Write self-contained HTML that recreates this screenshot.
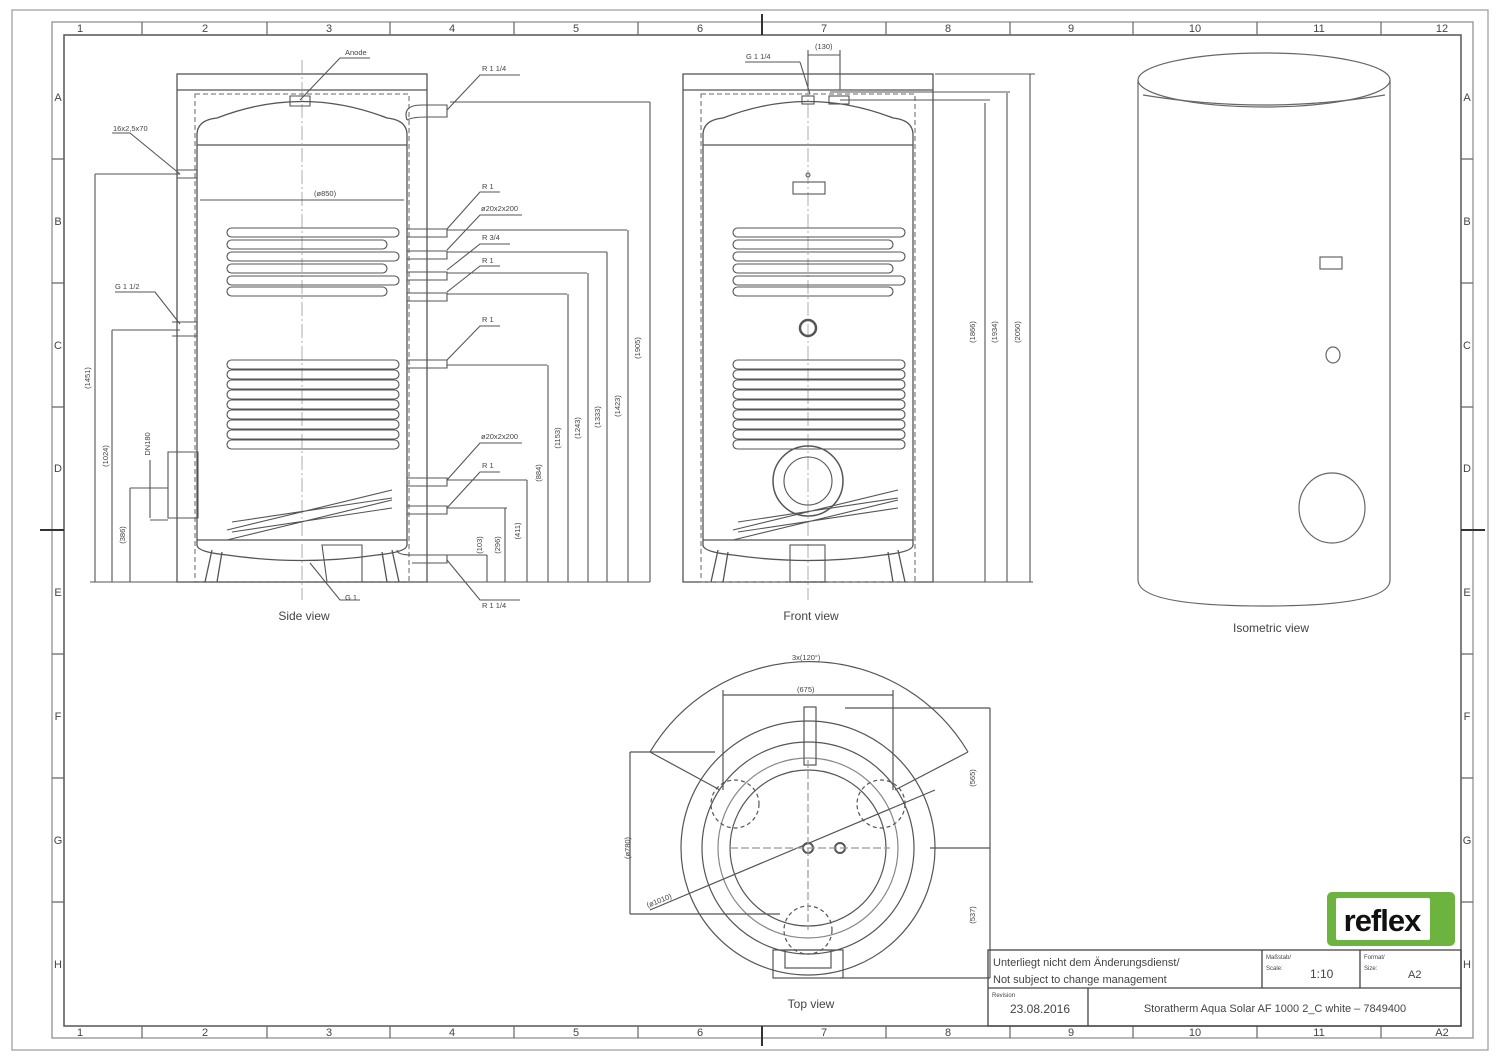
<!DOCTYPE html>
<html><head><meta charset="utf-8"><style>
html,body{margin:0;padding:0;background:#fff}
svg{display:block}
text{font-family:"Liberation Sans",sans-serif;fill:#444}
</style></head><body>
<svg width="1500" height="1061" viewBox="0 0 1500 1061" xmlns="http://www.w3.org/2000/svg">
<g fill="none" stroke="#666" stroke-width="1.2">
<rect x="12" y="10" width="1476" height="1040" stroke="#999"/>
<rect x="64" y="35" width="1397" height="991" stroke="#555" stroke-width="1.5"/>
<rect x="52" y="22" width="1421" height="1016" stroke="#888"/>
<path d="M142 22v13M267 22v13M390 22v13M514 22v13M638 22v13M762 22v13M886 22v13M1010 22v13M1133 22v13M1257 22v13M1381 22v13
M142 1026v12M267 1026v12M390 1026v12M514 1026v12M638 1026v12M762 1026v12M886 1026v12M1010 1026v12M1133 1026v12M1257 1026v12M1381 1026v12
M52 159h12M52 283h12M52 407h12M52 654h12M52 778h12M52 902h12M1461 159h12M1461 283h12M1461 407h12M1461 654h12M1461 778h12M1461 902h12"/>
<path d="M40 530h24M1461 530h24M762 14v21M762 1026v20" stroke="#333" stroke-width="2"/>
</g>
<g font-size="11" text-anchor="middle" fill="#666">
<text x="80" y="32">1</text><text x="205" y="32">2</text><text x="329" y="32">3</text><text x="452" y="32">4</text><text x="576" y="32">5</text><text x="700" y="32">6</text><text x="824" y="32">7</text><text x="948" y="32">8</text><text x="1071" y="32">9</text><text x="1195" y="32">10</text><text x="1319" y="32">11</text><text x="1442" y="32">12</text>
<text x="80" y="1036">1</text><text x="205" y="1036">2</text><text x="329" y="1036">3</text><text x="452" y="1036">4</text><text x="576" y="1036">5</text><text x="700" y="1036">6</text><text x="824" y="1036">7</text><text x="948" y="1036">8</text><text x="1071" y="1036">9</text><text x="1195" y="1036">10</text><text x="1319" y="1036">11</text><text x="1442" y="1036">A2</text>
<text x="58" y="101">A</text><text x="58" y="225">B</text><text x="58" y="349">C</text><text x="58" y="472">D</text><text x="58" y="596">E</text><text x="58" y="720">F</text><text x="58" y="844">G</text><text x="58" y="968">H</text>
<text x="1467" y="101">A</text><text x="1467" y="225">B</text><text x="1467" y="349">C</text><text x="1467" y="472">D</text><text x="1467" y="596">E</text><text x="1467" y="720">F</text><text x="1467" y="844">G</text><text x="1467" y="968">H</text>
</g>

<defs>
<g id="tank" fill="none" stroke="#555" stroke-width="1.3">
<rect x="-20" y="74" width="250" height="508"/>
<path d="M-20 90h250"/>
<rect x="-2" y="94" width="214" height="488" stroke-dasharray="5,3" stroke="#888"/>
<path d="M0 545V135Q0 120 20 118Q105 85 190 118Q210 120 210 135V545Q210 552 180 555Q105 566 30 555Q0 552 0 545Z"/>
<path d="M0 145h210M0 540h210"/>
<path d="M105 60V600" stroke-dasharray="14,3,2,3" stroke="#999" stroke-width="0.8"/>
<path d="M15 550L8 582M195 550L202 582M25 552L20 582M185 552L190 582"/>
<g stroke-width="1.1">
<rect x="30" y="228" width="172" height="9" rx="4.5"/>
<rect x="30" y="240" width="160" height="9" rx="4.5"/>
<rect x="30" y="252" width="172" height="9" rx="4.5"/>
<rect x="30" y="264" width="160" height="9" rx="4.5"/>
<rect x="30" y="276" width="172" height="9" rx="4.5"/>
<rect x="30" y="287" width="160" height="9" rx="4.5"/>
<rect x="30" y="360" width="172" height="9" rx="4.5"/>
<rect x="30" y="370" width="172" height="9" rx="4.5"/>
<rect x="30" y="380" width="172" height="9" rx="4.5"/>
<rect x="30" y="390" width="172" height="9" rx="4.5"/>
<rect x="30" y="400" width="172" height="9" rx="4.5"/>
<rect x="30" y="410" width="172" height="9" rx="4.5"/>
<rect x="30" y="420" width="172" height="9" rx="4.5"/>
<rect x="30" y="430" width="172" height="9" rx="4.5"/>
<rect x="30" y="440" width="172" height="9" rx="4.5"/>
<path d="M30 530L195 490M30 540L195 500M35 522L195 498M35 532L195 508"/>
</g>
</g>
</defs>

<use href="#tank" x="197"/>
<g fill="none" stroke="#555" stroke-width="1.1">
<path d="M290 96h20v10h-20z"/>
<path d="M407 120q-5-15 15-15h25v12h-20q-15 0-20 3"/>
<path d="M407 229h40v8h-40M407 251h40v8h-40M407 272h40v8h-40M407 293h40v8h-40M407 360h40v8h-40M407 478h40v8h-40M407 506h40v8h-40M397 550q0 5 15 5h35v8h-35"/>
<path d="M177 170h20v8h-20M172 322h25v14h-25M168 452h30v66h-30z"/>
<path d="M322 545h40v37h-35z"/>
<path d="M180 174L130 133h-18M180 324L155 292h-40M300 100L340 58h30M447 110L480 75h40M447 229L480 192h20M447 250L480 215h42M447 270L480 244h30M447 292L480 266h20M447 360L480 326h20M447 480L480 443h42M447 508L480 472h20M447 560L480 600h40M310 563L340 600h20"/>
<path d="M200 200h204"/>
<path d="M450 102h200M447 230h180M447 252h160M447 273h140M447 294h120M447 365h100M447 480h80M447 508h60M447 555h40M180 174H95M180 330H112M168 488H130M168 520H150"/>
<path d="M650 102v480M628 230v352M607 252v330M588 273v309M568 294v288M548 365v217M527 480v102M505 508v74M487 555v27M95 174v408M112 330v252M130 488v94M150 460v58"/>
<path d="M90 582h560"/>
</g>
<g font-size="7.5" fill="#555">
<text x="345" y="55">Anode</text><text x="482" y="71">R 1 1/4</text><text x="113" y="131">16x2,5x70</text><text x="115" y="289">G 1 1/2</text>
<text x="482" y="189">R 1</text><text x="481" y="211">ø20x2x200</text><text x="482" y="240">R 3/4</text><text x="482" y="263">R 1</text><text x="482" y="322">R 1</text><text x="481" y="439">ø20x2x200</text><text x="482" y="468">R 1</text><text x="482" y="608">R 1 1/4</text><text x="345" y="600">G 1</text>
<text x="314" y="196">(ø850)</text>
</g>
<g font-size="7.5" fill="#555">
<text transform="translate(640,348) rotate(-90)" text-anchor="middle">(1905)</text>
<text transform="translate(620,406) rotate(-90)" text-anchor="middle">(1423)</text>
<text transform="translate(600,417) rotate(-90)" text-anchor="middle">(1333)</text>
<text transform="translate(580,428) rotate(-90)" text-anchor="middle">(1243)</text>
<text transform="translate(560,438) rotate(-90)" text-anchor="middle">(1153)</text>
<text transform="translate(541,473) rotate(-90)" text-anchor="middle">(884)</text>
<text transform="translate(520,531) rotate(-90)" text-anchor="middle">(411)</text>
<text transform="translate(500,545) rotate(-90)" text-anchor="middle">(296)</text>
<text transform="translate(482,545) rotate(-90)" text-anchor="middle">(103)</text>
<text transform="translate(90,378) rotate(-90)" text-anchor="middle">(1451)</text>
<text transform="translate(108,456) rotate(-90)" text-anchor="middle">(1024)</text>
<text transform="translate(125,535) rotate(-90)" text-anchor="middle">(386)</text>
<text transform="translate(150,444) rotate(-90)" text-anchor="middle">DN180</text>
</g>
<text x="304" y="620" font-size="12" text-anchor="middle">Side  view</text>

<use href="#tank" x="703"/>
<g fill="none" stroke="#555" stroke-width="1.1">
<rect x="802" y="96" width="12" height="8"/><rect x="829" y="96" width="20" height="8"/>
<circle cx="808" cy="175" r="2"/>
<rect x="793" y="182" width="32" height="12"/>
<circle cx="808" cy="328" r="8" stroke-width="2.5"/>
<circle cx="808" cy="481" r="35" stroke-width="1.5"/><circle cx="808" cy="481" r="24"/>
<rect x="790" y="545" width="35" height="37"/>
<path d="M800 62L810 94M745 62h55M808 55h32M808 50v40M840 50v40"/>
<path d="M935 74h100M840 100h150M830 92h180M933 582h100M985 103v479M1007 93v489M1030 74v508"/>
</g>
<g font-size="7.5" fill="#555">
<text x="746" y="59">G 1 1/4</text><text x="815" y="49">(130)</text>
<text transform="translate(975,332) rotate(-90)" text-anchor="middle">(1866)</text>
<text transform="translate(997,332) rotate(-90)" text-anchor="middle">(1934)</text>
<text transform="translate(1020,332) rotate(-90)" text-anchor="middle">(2050)</text>
</g>
<text x="811" y="620" font-size="12" text-anchor="middle">Front  view</text>

<g fill="none" stroke="#666" stroke-width="1.2">
<ellipse cx="1264" cy="80" rx="126" ry="27"/>
<path d="M1138 80V580Q1138 606 1264 606Q1390 606 1390 580V80"/>
<path d="M1143 95Q1264 115 1385 95"/>
<rect x="1320" y="257" width="22" height="12"/>
<ellipse cx="1333" cy="355" rx="7" ry="8"/>
<ellipse cx="1332" cy="508" rx="33" ry="35"/>
</g>
<text x="1271" y="632" font-size="12" text-anchor="middle">Isometric  view</text>

<g fill="none" stroke="#555" stroke-width="1.2">
<circle cx="808" cy="848" r="127"/>
<circle cx="808" cy="848" r="106"/>
<circle cx="808" cy="848" r="90" stroke="#888"/>
<circle cx="808" cy="848" r="78"/>
<rect x="804" y="707" width="12" height="58"/>
<circle cx="808" cy="848" r="5" stroke-width="2"/><circle cx="840" cy="848" r="5" stroke-width="2"/>
<circle cx="735" cy="804" r="24" stroke-dasharray="4,3"/><circle cx="881" cy="804" r="24" stroke-dasharray="4,3"/>
<circle cx="808" cy="930" r="24" stroke-dasharray="4,3"/>
<rect x="773" y="950" width="70" height="28"/><rect x="785" y="950" width="46" height="18"/>
<path d="M650 752A185 185 0 0 1 968 752"/>
<path d="M650 752L720 790M968 752L895 790M723 695h170M723 690v100M893 690v100M630 752h85M630 752v162M630 914h150M650 910L935 790M845 708h145M990 708v270M930 848h60M840 978h150"/>
<path d="M808 760v170M730 848h160" stroke-dasharray="8,3" stroke="#999"/>
</g>
<g font-size="7.5" fill="#555">
<text x="792" y="660">3x(120°)</text><text x="797" y="692">(675)</text>
<text transform="translate(630,848) rotate(-90)" text-anchor="middle">(ø780)</text>
<text transform="translate(975,778) rotate(-90)" text-anchor="middle">(565)</text>
<text transform="translate(975,915) rotate(-90)" text-anchor="middle">(537)</text>
<text transform="translate(660,903) rotate(-22)" text-anchor="middle">(ø1010)</text>
</g>
<text x="811" y="1008" font-size="12" text-anchor="middle">Top  view</text>

<rect x="1327" y="892" width="128" height="54" rx="5" fill="#6db33f"/>
<rect x="1336" y="898" width="94" height="42" rx="2" fill="#fff"/>
<text x="1382" y="931" font-size="31" font-weight="bold" text-anchor="middle" fill="#111" style="fill:#111" letter-spacing="-1">reflex</text>

<g fill="none" stroke="#444" stroke-width="1.3">
<rect x="988" y="950" width="473" height="76"/>
<path d="M988 988h473M1262 950v38M1360 950v38M1088 988v38"/>
</g>
<g fill="#444">
<text x="993" y="966" font-size="11">Unterliegt  nicht  dem  Änderungsdienst/</text>
<text x="993" y="983" font-size="11">Not  subject  to  change  management</text>
<text x="1266" y="959" font-size="6">Maßstab/</text><text x="1266" y="970" font-size="6">Scale:</text>
<text x="1310" y="978" font-size="12">1:10</text>
<text x="1364" y="959" font-size="6">Format/</text><text x="1364" y="970" font-size="6">Size:</text>
<text x="1408" y="978" font-size="11">A2</text>
<text x="992" y="997" font-size="6">Revision</text>
<text x="1040" y="1013" font-size="12" text-anchor="middle">23.08.2016</text>
<text x="1275" y="1012" font-size="11" text-anchor="middle">Storatherm  Aqua  Solar  AF  1000  2_C  white  –  7849400</text>
</g>
</svg>
</body></html>
